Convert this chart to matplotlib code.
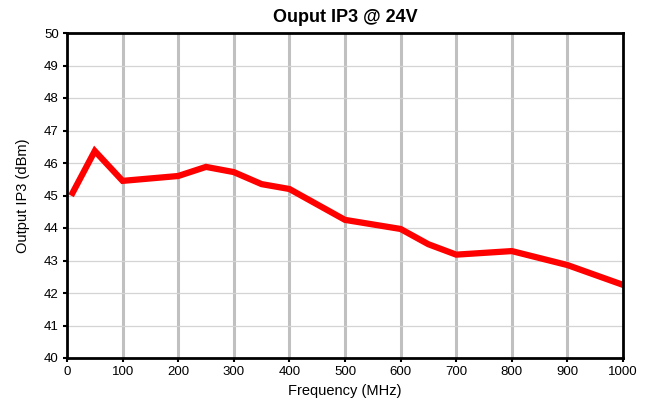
import numpy as np
import matplotlib
matplotlib.use("Agg")
import matplotlib.pyplot as plt

plt.rcParams['font.family'] = ['Liberation Sans', 'DejaVu Sans']

# Данные
freq_mhz = [10, 50, 100, 200, 250, 300, 350, 400, 500, 600, 650, 700, 800, 900, 1000]
oip3_dbm = [45.08, 46.37, 45.45, 45.6, 45.88, 45.72, 45.35, 45.2, 44.25, 43.97, 43.5, 43.18, 43.29, 42.86, 42.25]

x_ticks = list(range(0, 1001, 100))
y_ticks = list(range(40, 51))

fig = plt.figure(figsize=(6.47, 4.08), dpi=100)
ax = fig.add_axes([67 / 647, 1 - 358 / 408, (623 - 67) / 647, (358 - 33) / 408])

# Сетка: толстые вертикальные, тонкие горизонтальные
for xv in x_ticks[1:-1]:
    ax.axvline(xv, color='#c0c0c0', lw=2.2, zorder=1)
for yv in y_ticks[1:-1]:
    ax.axhline(yv, color='#d4d4d4', lw=0.9, zorder=1)

ax.plot(freq_mhz, oip3_dbm, color='#ff0000', lw=4.5, solid_joinstyle='miter', zorder=3)

ax.set_xlim(0, 1000)
ax.set_ylim(40, 50)
ax.set_xticks(x_ticks)
ax.set_yticks(y_ticks)
ax.tick_params(direction='out', length=3, width=1.5, labelsize=9.5, pad=3)

for sp in ax.spines.values():
    sp.set_linewidth(2)
    sp.set_color('black')
    sp.set_zorder(4)

ax.set_title('Ouput IP3 @ 24V', fontsize=13, fontweight='bold', pad=8)
ax.set_xlabel('Frequency (MHz)', fontsize=10.5, labelpad=4)
ax.set_ylabel('Output IP3 (dBm)', fontsize=10.5, labelpad=10)

fig.savefig('out.png', dpi=100)
